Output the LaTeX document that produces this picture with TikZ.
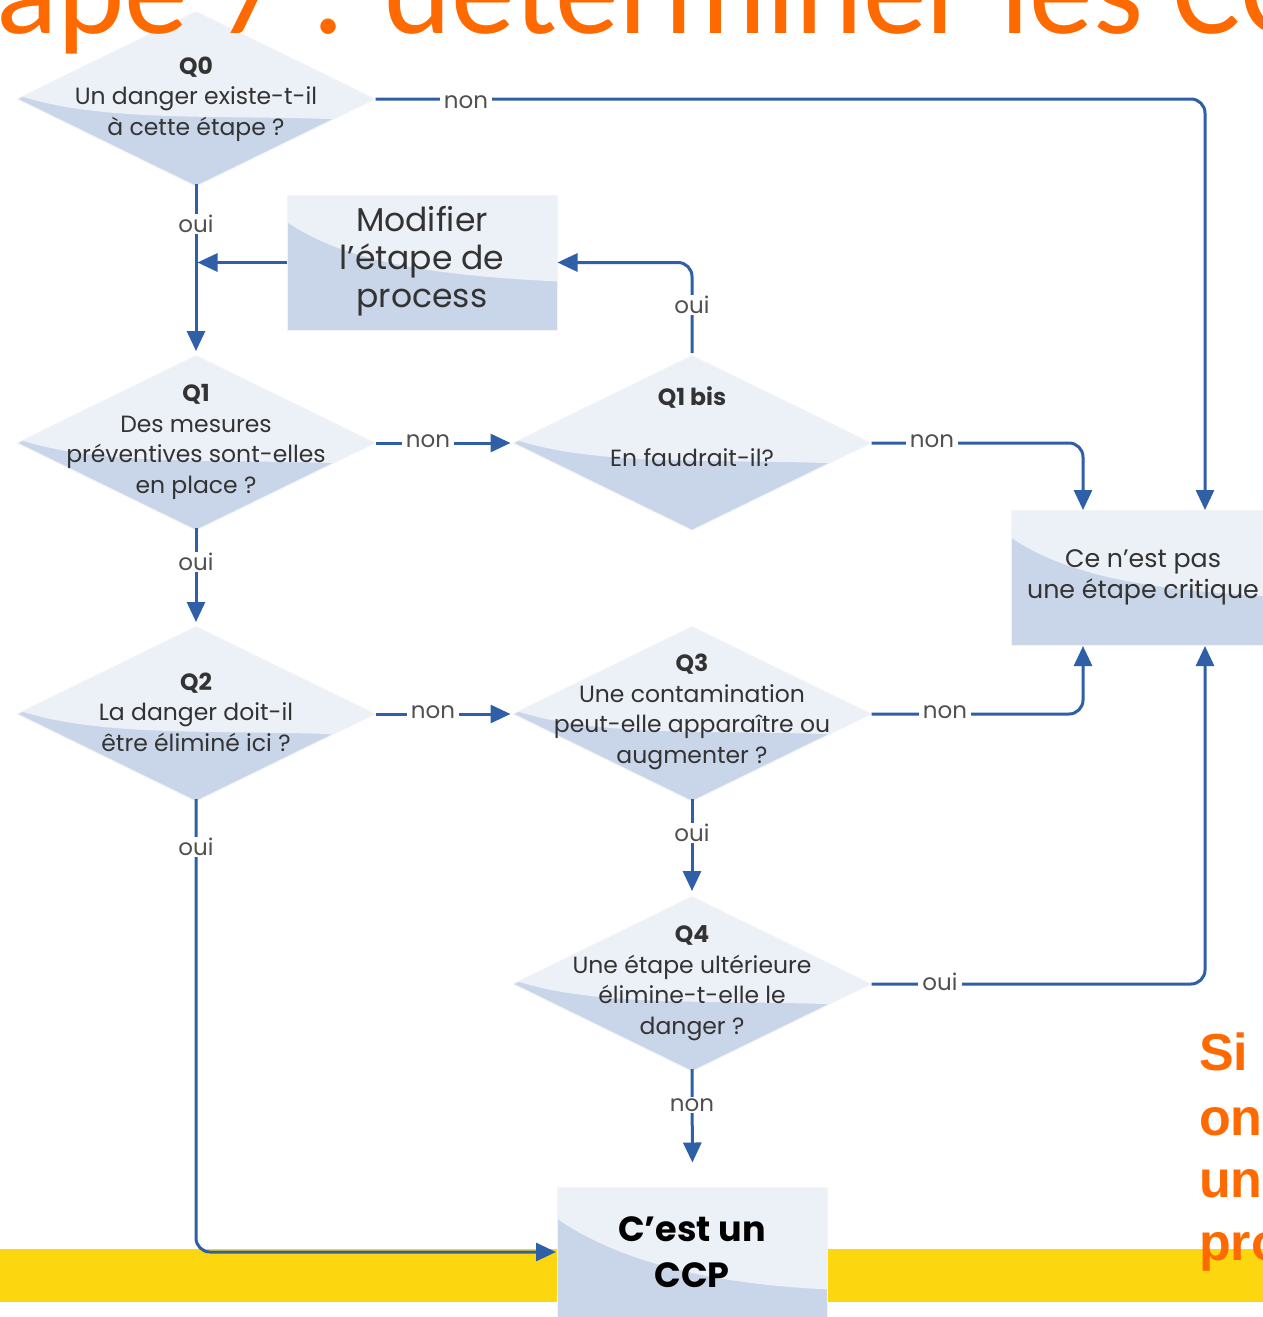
\documentclass[tikz,border=0pt]{standalone}
\usepackage{fontspec}
\setmainfont{Poppins}
\newfontfamily\titlefont{Carlito}
\newfontfamily\notefont{Liberation Sans}
\usetikzlibrary{arrows.meta,shapes.geometric,calc}

\definecolor{flow}{HTML}{2F5FA7}
\definecolor{paneldark}{HTML}{C9D6E9}
\definecolor{panellight}{HTML}{ECF0F7}
\definecolor{ink}{HTML}{333333}
\definecolor{tagink}{HTML}{505050}
\definecolor{accent}{HTML}{FF6A00}
\definecolor{band}{HTML}{FCD60E}

\tikzset{
  question/.style={diamond, minimum width=358pt, minimum height=175pt, inner sep=0pt,
    draw=panellight!70!white, line width=1pt, fill=paneldark,
    path picture={\fill[panellight]
      (path picture bounding box.north west) -- (path picture bounding box.north east)
      -- ($(path picture bounding box.east)+(0,22)$)
      .. controls +(-140,-8) and +(90,30) .. ($(path picture bounding box.west)+(0,-4)$) -- cycle;}},
  qtext/.style={align=center, text=ink, inner sep=0pt, font=\fontsize{23.5}{30.5}\selectfont},
  panel/.style={rectangle, minimum width=270pt, minimum height=135pt, inner sep=0pt,
    draw=panellight!70!white, line width=1pt, fill=paneldark,
    path picture={\fill[panellight]
      (path picture bounding box.north west) -- (path picture bounding box.north east)
      -- ($(path picture bounding box.north east)!0.64!(path picture bounding box.south east)$)
      .. controls +(-130,-6) and +(55,38) ..
      ($(path picture bounding box.north west)!0.2!(path picture bounding box.south west)$) -- cycle;}},
  link/.style={draw=flow, line width=3pt, rounded corners=14pt},
  tip/.style={-{Triangle[width=18pt,length=20pt]}},
  tag/.style={fill=white, text=tagink, inner xsep=4pt, inner ysep=1pt,
    font=\fontsize{23}{23}\selectfont},
}

\begin{document}
\begin{tikzpicture}[x=1pt, y=-1pt]
\useasboundingbox (0,0) rectangle (1263,1317);
\clip (0,0) rectangle (1263,1317);
\fill[white] (0,0) rectangle (1263,1317);

% yellow band behind the final box
\fill[band] (0,1249) rectangle (1263,1302);

% decision diamonds
\node[question] (q0) at (196,99) {};
\node[question] (q1) at (196,443) {};
\node[question] (qb) at (692,443) {};
\node[question] (q2) at (196,714) {};
\node[question] (q3) at (692,714) {};
\node[question] (q4) at (692,984) {};

\node[qtext] (q0t) at (196,99) {\textbf{Q0}\\Un danger existe-t-il\\à cette étape ?};
\node[qtext] (q1t) at (196,442) {\textbf{Q1}\\Des mesures\\préventives sont-elles\\en place ?};
\node[qtext] (qbt) at (692,427) {\textbf{Q1 bis}\\\mbox{}\\En faudrait-il?};
\node[qtext] (q2t) at (196,712) {\textbf{Q2}\\La danger doit-il\\être éliminé ici ?};
\node[qtext] (q3t) at (692,712) {\textbf{Q3}\\Une contamination\\peut-elle apparaître ou\\augmenter ?};
\node[qtext] (q4t) at (692,983) {\textbf{Q4}\\Une étape ultérieure\\élimine-t-elle le\\danger ?};

% outcome boxes
\node[panel] (mod) at (422,262.5) {};
\node[qtext, font=\fontsize{33}{38}\selectfont] (modt) at (422,261) {Modifier\\l’étape de\\process};
\node[panel] (ce) at (1146,578) {};
\node[qtext, font=\fontsize{25.3}{31}\selectfont] (cet) at (1143,577) {Ce n'est pas\\une étape critique};
\node[panel, minimum height=160pt] (ccp) at (692.5,1267) {};
\node[qtext, font=\fontsize{35}{46}\selectfont\bfseries, text=black] (ccpt) at (692,1252) {C’est un\\CCP};

% right-hand columns feeding the "not critical" box
\coordinate (colA) at (1083,0);
\coordinate (colB) at (1205,0);

% connectors
\draw[link,tip] (q0.east) -- (q0.east -| colB) -- (colB |- ce.north);
\draw[link,tip,shorten >=4pt] ([yshift=3pt]q0.south) -- (q1.north);
\draw[link,tip,shorten >=1.5pt] (mod.west) -- (mod.west -| q0.south);
\draw[link,tip,shorten <=2pt] (qb.north) -- (qb.north |- mod.east) -- (mod.east);
\draw[link,tip,shorten >=2pt] (q1.east) -- (qb.west);
\draw[link,tip,shorten >=4pt] ([yshift=3pt]q1.south) -- (q2.north);
\draw[link,tip] (qb.east) -- (qb.east -| colA) -- (colA |- ce.north);
\draw[link,tip,shorten >=2pt] (q2.east) -- (q3.west);
\draw[link,tip] (q3.east) -- (q3.east -| colA) -- (colA |- ce.south);
\draw[link,tip,shorten >=5pt] ([yshift=3pt]q3.south) -- (q4.north);
\draw[link,tip] (q4.east) -- (q4.east -| colB) -- (colB |- ce.south);
\draw[link,tip,shorten >=24pt] ([yshift=3pt]q4.south) -- (ccp.north);
\draw[link,tip,shorten >=1pt] ([yshift=3pt]q2.south) -- (q2.south |- 0,1252) -- (ccp.west |- 0,1252);

% branch labels
\node[tag] (l0n) at (466,102) {non};
\node[tag] (l0o) at (196,224) {oui};
\node[tag] (lbo) at (692,305) {oui};
\node[tag] (l1n) at (428,441) {non};
\node[tag] (l1o) at (196,562) {oui};
\node[tag] (lbn) at (932,441) {non};
\node[tag] (l2n) at (433,712) {non};
\node[tag] (l2o) at (196,847) {oui};
\node[tag] (l3n) at (945,712) {non};
\node[tag] (l3o) at (692,833) {oui};
\node[tag] (l4o) at (940,982) {oui};
\node[tag] (l4n) at (692,1105) {non};

% slide heading and side note, cut by the frame
\node[anchor=base west, inner sep=0pt, text depth=0pt, text=accent, font=\titlefont\fontsize{128}{128}\selectfont] (title) at (-4,33) {ape 7 : déterminer les CC};
\begin{scope}[every node/.style={anchor=base west, inner sep=0pt, text=accent, font=\notefont\bfseries\fontsize{52}{52}\selectfont}]
\node (n1) at (1199,1070) {Si};
\node (n2) at (1199,1135) {on};
\node (n3) at (1199,1197) {un};
\node (n4) at (1199,1260) {pro};
\end{scope}
\end{tikzpicture}
\end{document}
